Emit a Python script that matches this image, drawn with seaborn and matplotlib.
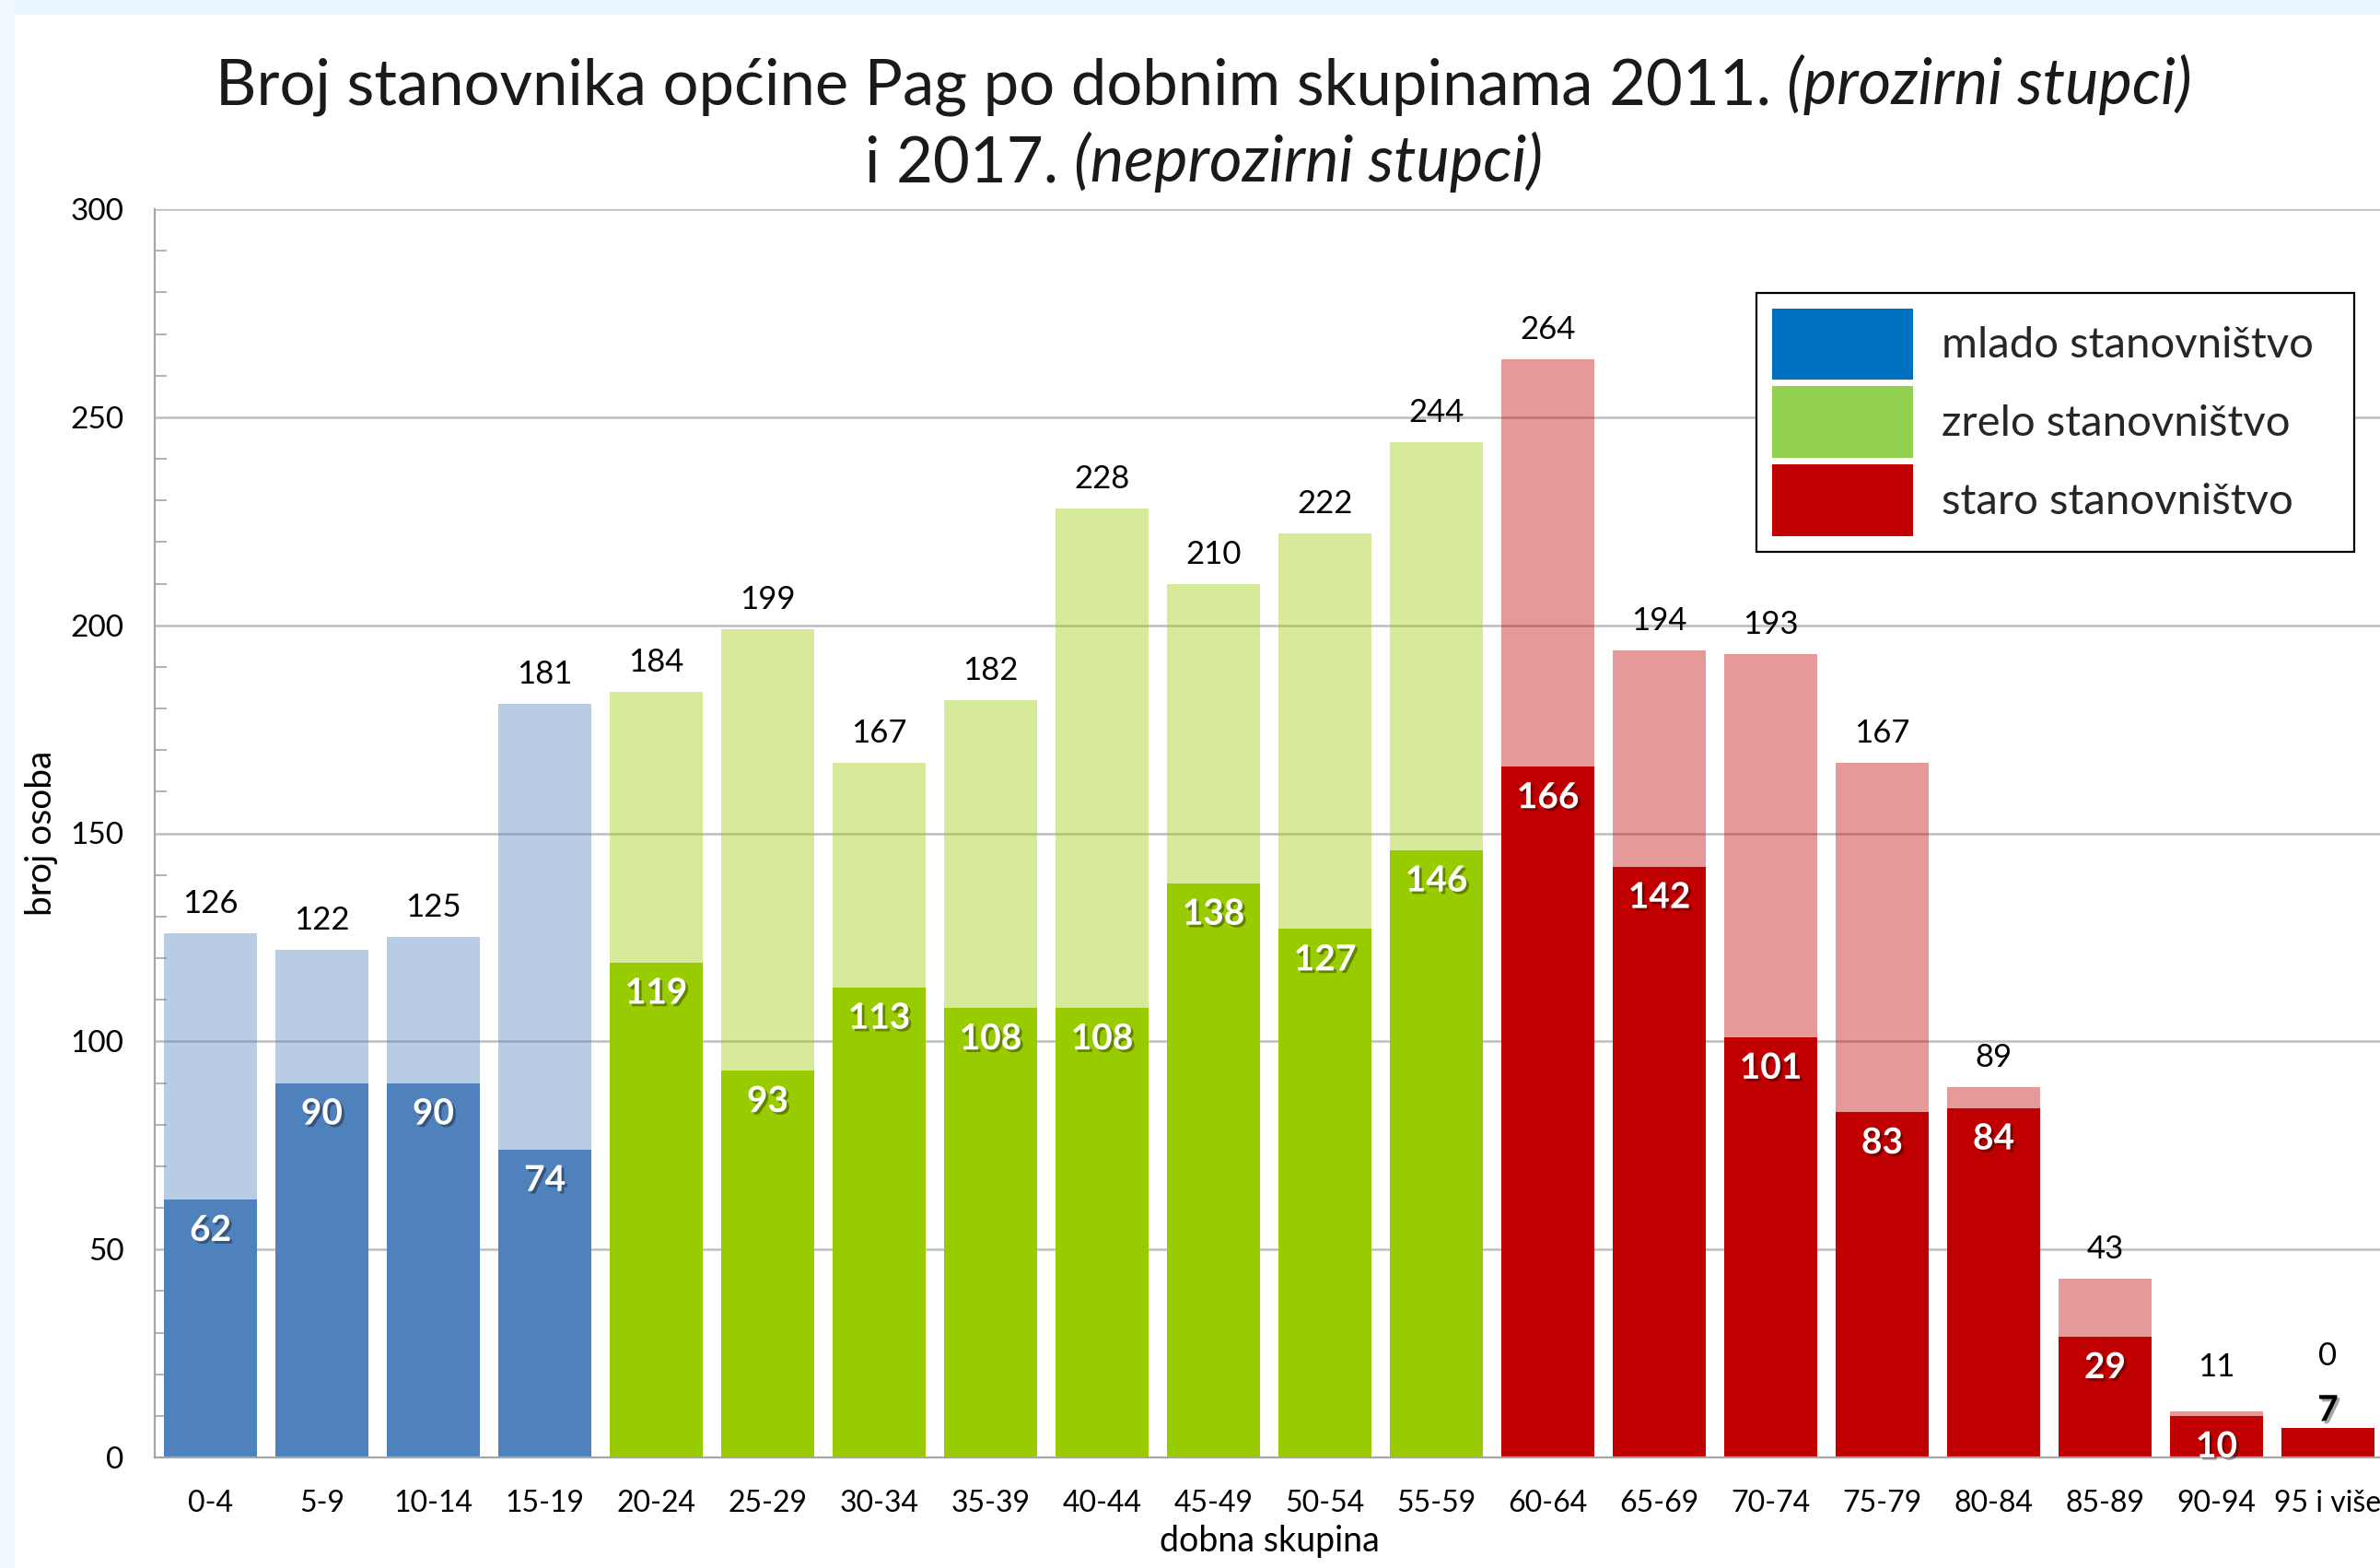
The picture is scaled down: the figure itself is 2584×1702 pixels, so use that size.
"""Broj stanovnika općine Pag po dobnim skupinama, 2011. i 2017."""

import matplotlib

matplotlib.use("Agg")
import matplotlib.patheffects as pe
import matplotlib.pyplot as plt
import pandas as pd
import seaborn as sns
from matplotlib.patches import Patch, Rectangle
from matplotlib.ticker import MultipleLocator

AGE_GROUPS = [
    "0-4", "5-9", "10-14", "15-19", "20-24", "25-29", "30-34", "35-39",
    "40-44", "45-49", "50-54", "55-59", "60-64", "65-69", "70-74", "75-79",
    "80-84", "85-89", "90-94", "95 i više",
]
POP_2011 = [126, 122, 125, 181, 184, 199, 167, 182, 228, 210, 222, 244,
            264, 194, 193, 167, 89, 43, 11, 0]
POP_2017 = [62, 90, 90, 74, 119, 93, 113, 108, 108, 138, 127, 146,
            166, 142, 101, 83, 84, 29, 10, 7]
GROUP = ["mlado"] * 4 + ["zrelo"] * 8 + ["staro"] * 8

GROUPS = ["mlado", "zrelo", "staro"]
BAR_COLORS = {"mlado": "#4F81BD", "zrelo": "#99CC00", "staro": "#C00000"}
LEGEND_COLORS = ["#0070C0", "#92D050", "#C00000"]
LEGEND_LABELS = ["mlado stanovništvo", "zrelo stanovništvo", "staro stanovništvo"]

TITLE_1 = [("Broj stanovnika općine Pag po dobnim skupinama 2011.", "normal"),
           ("(prozirni stupci)", "italic")]
TITLE_2 = [("i 2017.", "normal"), ("(neprozirni stupci)", "italic")]

W, H = 2584, 1702


def title_line(fig, parts, y_px, size, center_px):
    renderer = fig.canvas.get_renderer()
    probe_a = fig.text(0, 0, "n n", fontsize=size)
    probe_b = fig.text(0, 0, "nn", fontsize=size)
    space = (probe_a.get_window_extent(renderer).width
             - probe_b.get_window_extent(renderer).width)
    probe_a.remove()
    probe_b.remove()
    texts = [fig.text(0, 1 - y_px / H, s, fontsize=size, style=st,
                      ha="left", va="baseline", color="#1a1a1a")
             for s, st in parts]
    widths = [t.get_window_extent(renderer).width for t in texts]
    x = center_px - (sum(widths) + space * (len(texts) - 1)) / 2
    for t, w in zip(texts, widths):
        t.set_x(x / W)
        x += w + space


def main() -> None:
    sns.set_theme(style="white")
    plt.rcParams["font.family"] = ["Lato", "DejaVu Sans"]

    df = pd.DataFrame({"dobna": AGE_GROUPS, "p2011": POP_2011,
                       "p2017": POP_2017, "skupina": GROUP})

    fig = plt.figure(figsize=(W / 100, H / 100), dpi=100)
    fig.patch.set_facecolor("white")
    fig.patches.append(Rectangle((0, 1 - 16 / H), 1, 16 / H, transform=fig.transFigure,
                                 facecolor="#EAF6FD", edgecolor="none", zorder=0))
    fig.patches.append(Rectangle((0, 0), 16 / W, 1, transform=fig.transFigure,
                                 facecolor="#F0F8FE", edgecolor="none", zorder=0))

    ax = fig.add_axes([168 / W, 1 - 1582 / H, 2420 / W, (1582 - 227) / H])
    ax.set_facecolor("none")

    common = dict(data=df, x="dobna", hue="skupina", palette=BAR_COLORS,
                  order=AGE_GROUPS, hue_order=GROUPS, dodge=False, width=0.83,
                  saturation=1, errorbar=None, legend=False, linewidth=0, ax=ax)
    sns.barplot(y="p2011", alpha=0.4, **common)
    sns.barplot(y="p2017", **common)

    ax.set_xlim(-0.5, len(AGE_GROUPS) - 0.5)
    ax.set_ylim(0, 300)
    ax.set_yticks(range(0, 301, 50))
    ax.yaxis.set_minor_locator(MultipleLocator(10))
    ax.yaxis.grid(True, which="major", color="#BDBDBD", linewidth=1.8)
    ax.set_axisbelow(True)

    for side in ("top", "right"):
        ax.spines[side].set_visible(False)
    for side in ("left", "bottom"):
        ax.spines[side].set_color("#A6A6A6")
        ax.spines[side].set_linewidth(1.6)

    ax.tick_params(axis="x", length=0, pad=25, labelsize=23, labelcolor="black")
    ax.tick_params(axis="y", which="major", length=0, pad=24, labelsize=24,
                   labelcolor="black")
    ax.tick_params(axis="y", which="minor", left=True, direction="in", length=9,
                   width=1.2, color="#A6A6A6")

    ax.set_xlabel("dobna skupina", fontsize=27, labelpad=6, color="black")
    ax.set_ylabel("broj osoba", fontsize=28, labelpad=10, color="black")

    shadow = [pe.withSimplePatchShadow(offset=(2, -2), shadow_rgbFace="black", alpha=0.35)]
    for i, (old, new) in enumerate(zip(POP_2011, POP_2017)):
        if new >= 9:
            ax.annotate(str(new), (i, new), xytext=(0, -16), textcoords="offset pixels",
                        ha="center", va="top", fontsize=28, fontweight="bold",
                        color="white", path_effects=shadow)
        else:
            ax.annotate(str(new), (i, new), xytext=(0, 2), textcoords="offset pixels",
                        ha="center", va="bottom", fontsize=28, fontweight="bold",
                        color="black", path_effects=shadow)

        offset = 16
        if new < 9:
            offset += 46
        elif old < 20:
            offset += 16
        ax.annotate(str(old), (i, max(old, new)), xytext=(0, offset),
                    textcoords="offset pixels", ha="center", va="bottom",
                    fontsize=25, color="black")

    # legend box spans x 1907..2556 px, top at 318 px
    handles = [Patch(facecolor=c, edgecolor="none") for c in LEGEND_COLORS]
    leg = fig.legend(handles, LEGEND_LABELS, loc="upper left", mode="expand",
                     bbox_to_anchor=(1907 / W, 1 - 318 / H, 649 / W, 0.0),
                     bbox_transform=fig.transFigure,
                     fontsize=34, frameon=True, fancybox=False, framealpha=1,
                     edgecolor="black", handlelength=3.25, handleheight=2.16,
                     handletextpad=0.65, labelspacing=0.15, borderpad=0.35,
                     borderaxespad=0)
    leg.get_frame().set_linewidth(1.6)

    fig.canvas.draw()
    title_line(fig, TITLE_1, 113, 49.5, 1307)
    title_line(fig, TITLE_2, 197, 49.5, 1307)

    fig.savefig("out.png", dpi=100)
    plt.close(fig)


if __name__ == "__main__":
    main()
